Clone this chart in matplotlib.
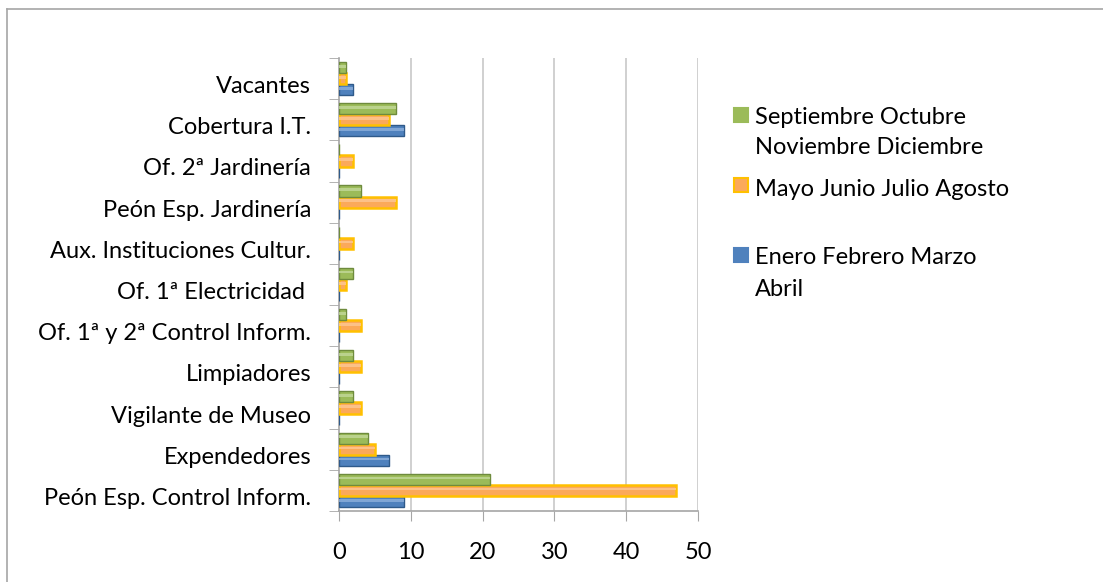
import matplotlib
matplotlib.use("Agg")
import matplotlib.pyplot as plt
import matplotlib.transforms as mtransforms
from matplotlib.patches import Rectangle
from matplotlib.lines import Line2D
import numpy as np

categories = ["Peón Esp. Control Inform.", "Expendedores", "Vigilante de Museo",
              "Limpiadores", "Of. 1ª y 2ª Control Inform.", "Of. 1ª Electricidad ",
              "Aux. Instituciones Cultur.", "Peón Esp. Jardinería", "Of. 2ª Jardinería",
              "Cobertura I.T.", "Vacantes"]
enero = [9, 7, 0, 0, 0, 0, 0, 0, 0, 9, 2]
mayo = [47, 5, 3, 3, 3, 1, 2, 8, 2, 7, 1]
septiembre = [21, 4, 2, 2, 1, 2, 0, 3, 0, 8, 1]
series_names = ["Enero Febrero Marzo\nAbril", "Mayo Junio Julio Agosto",
                "Septiembre Octubre\nNoviembre Diciembre"]
xticks = [0, 10, 20, 30, 40, 50]

FONT = ["Lato", "DejaVu Sans"]
plt.rcParams["font.family"] = FONT
FS = 17

W, H = 1103, 582
fig = plt.figure(figsize=(W / 100, H / 100), dpi=100)

# figure frame (top and left visible)
fig.add_artist(Line2D([7 / W, 7 / W], [0, 1 - 9 / H], transform=fig.transFigure,
                      color="#A6A6A6", lw=1.2))
fig.add_artist(Line2D([7 / W, 1], [1 - 9 / H, 1 - 9 / H], transform=fig.transFigure,
                      color="#A6A6A6", lw=1.2))

left, right, top, bottom = 339, 698, 58, 511
ax = fig.add_axes([left / W, 1 - bottom / H, (right - left) / W, (bottom - top) / H])

y = np.arange(len(categories))
h = 0.27
cols = [("#4F81BD", "#2F5A8A", "#8DB0DC"),
        ("#FBA95A", "#FFC000", "#FDC894"),
        ("#9BBB59", "#6E8B3D", "#C2D89A")]
for i, (vals, (fc, ec, hl)) in enumerate(zip([enero, mayo, septiembre], cols)):
    off = (i - 1) * h
    lw = 1.8 if i == 1 else 1.0
    ax.barh(y + off, vals, height=h, color=fc, edgecolor=ec, linewidth=lw, zorder=3)
    # cylinder highlight
    ax.barh(y + off + h * 0.12, vals, height=h * 0.25, color=hl, linewidth=0,
            zorder=4, alpha=0.8)

ax.set_xlim(0, 50)
ax.set_ylim(-0.5, len(categories) - 0.5)
ax.set_xticks(xticks)
ax.set_xticklabels([str(t) for t in xticks], fontsize=FS)
ax.set_yticks(y)
ax.set_yticklabels(categories, fontsize=FS)
ax.set_yticks(np.arange(-0.5, len(categories), 1.0), minor=True)
ax.tick_params(axis="y", which="major", length=0, pad=20)
ax.tick_params(axis="y", which="minor", length=7, color="#A6A6A6", direction="out")
ax.tick_params(axis="x", which="major", length=7, color="#A6A6A6", pad=15)

# shift category labels slightly down (3D perspective)
shift = mtransforms.ScaledTranslation(0, -6 / 100, fig.dpi_scale_trans)
for lab in ax.get_yticklabels():
    lab.set_transform(lab.get_transform() + shift)

for t in xticks[1:]:
    ax.axvline(t, color="#C8C8C8", lw=1.2, zorder=1)
for s in ["top", "right"]:
    ax.spines[s].set_visible(False)
for s in ["left", "bottom"]:
    ax.spines[s].set_color("#A6A6A6")
    ax.spines[s].set_linewidth(1.2)

# legend drawn manually (Excel style)
legend_items = [
    (series_names[2], "#9BBB59", "#9BBB59", 115, [117, 148]),
    (series_names[1], "#FBA95A", "#FFC000", 185, [189]),
    (series_names[0], "#4F81BD", "#4F81BD", 255, [258, 289]),
]
for text, fc, ec, yc, lines_y in legend_items:
    fig.add_artist(Rectangle((734 / W, 1 - (yc + 7) / H), 14 / W, 14 / H,
                             transform=fig.transFigure, facecolor=fc, edgecolor=ec,
                             linewidth=1.5))
    for line, ly in zip(text.split("\n"), lines_y):
        fig.text(755 / W, 1 - ly / H, line, fontsize=FS, va="center", ha="left")

fig.savefig("out.png", dpi=100)
